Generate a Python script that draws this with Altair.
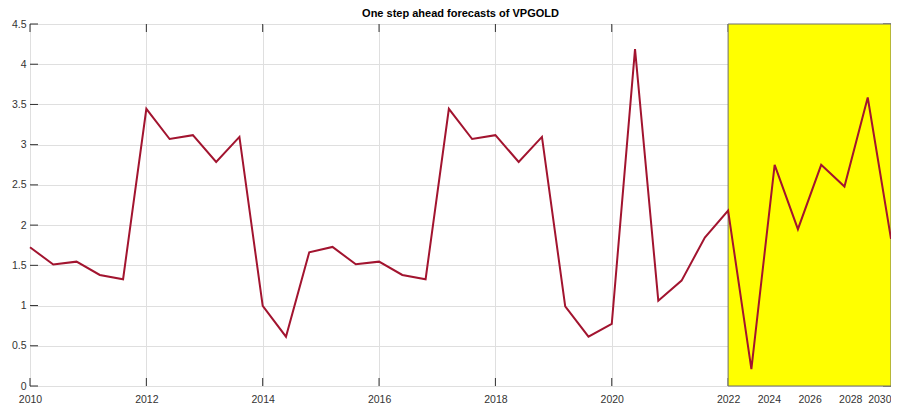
import altair as alt
import pandas as pd

# ---- data ----
values = [1.725, 1.51, 1.546, 1.38, 1.327, 3.445, 3.07, 3.118, 2.786, 3.097,
          0.995, 0.613, 1.663, 1.729, 1.513, 1.546, 1.38, 1.327, 3.445, 3.07,
          3.118, 2.786, 3.097, 0.99, 0.613, 0.771, 4.188, 1.061, 1.31, 1.845,
          2.18, 0.211, 2.749, 1.949, 2.749, 2.479, 3.586, 1.828]
obs_index = list(range(len(values)))
x_tick_pos = [0, 5, 10, 15, 20, 25, 30, 31.75, 33.5, 35.25, 37]
x_tick_labels = ["2010", "2012", "2014", "2016", "2018", "2020", "2022",
                 "2024", "2026", "2028", "2030"]
y_ticks = [0, 0.5, 1, 1.5, 2, 2.5, 3, 3.5, 4, 4.5]
forecast_start, forecast_end = 30, 37
y_min, y_max = 0, 4.5
title_text = "One step ahead forecasts of VPGOLD"

df = pd.DataFrame({"i": obs_index, "v": values})
xt = pd.DataFrame({"p": x_tick_pos})
yt = pd.DataFrame({"q": y_ticks})
span = pd.DataFrame({"x0": [forecast_start], "x1": [forecast_end],
                     "y0": [y_min], "y1": [y_max]})

W, H = 861, 362
TICK = 8
FONT = "Liberation Sans"
LABEL_COLOR = "#333333"
GRID_COLOR = "#dfdfdf"

xscale = alt.Scale(domain=[obs_index[0], forecast_end], nice=False, zero=False)
yscale = alt.Scale(domain=[y_min, y_max], nice=False, zero=False)

label_expr = ("[" + ",".join(f"'{l}'" for l in x_tick_labels) + "][indexof(["
              + ",".join(str(p) for p in x_tick_pos) + "], datum.value)]")
align_expr = f"datum.value == {x_tick_pos[-1]} ? 'right' : 'center'"

x_axis = alt.Axis(values=x_tick_pos, labelExpr=label_expr, title=None, grid=True,
                  gridColor=GRID_COLOR, ticks=False, domain=False, labelPadding=8,
                  labelOverlap=False, labelFlush=False, labelFont=FONT,
                  labelAlign={"expr": align_expr},
                  labelFontSize=10.5, labelColor=LABEL_COLOR)
y_axis = alt.Axis(values=y_ticks, format="~g", title=None, grid=True,
                  gridColor=GRID_COLOR, ticks=False, domain=False, labelPadding=4,
                  labelFont=FONT, labelFontSize=10.5, labelColor=LABEL_COLOR)


def X(field, **kw):
    return alt.X(field, scale=xscale, axis=x_axis, **kw)


def Y(field, **kw):
    return alt.Y(field, scale=yscale, axis=y_axis, **kw)


tick_color = "#303030"
bottom_ticks = alt.Chart(xt).mark_rule(color=tick_color, strokeWidth=1).encode(
    x=X("p:Q"), y=alt.value(H), y2=alt.value(H - TICK))
top_ticks = alt.Chart(xt).mark_rule(color=tick_color, strokeWidth=1).encode(
    x=X("p:Q"), y=alt.value(0), y2=alt.value(TICK))
left_ticks = alt.Chart(yt).mark_rule(color=tick_color, strokeWidth=1).encode(
    y=Y("q:Q"), x=alt.value(0), x2=alt.value(TICK))
right_ticks = alt.Chart(yt).mark_rule(color=tick_color, strokeWidth=1).encode(
    y=Y("q:Q"), x=alt.value(W - TICK), x2=alt.value(W))

rect = alt.Chart(span).mark_rect(color="#FFFF00", stroke="#6e6e6e", strokeWidth=1).encode(
    x=X("x0:Q"), x2="x1:Q", y=Y("y0:Q"), y2="y1:Q")

line = alt.Chart(df).mark_line(color="#A2142F", strokeWidth=2).encode(
    x=X("i:Q"), y=Y("v:Q"))

chart = alt.layer(bottom_ticks, top_ticks, left_ticks, right_ticks, rect, line).properties(
    width=W, height=H,
    title=alt.TitleParams(title_text, font=FONT, fontSize=11, fontWeight="bold",
                          color="#000000", anchor="middle", offset=0, frame="group"),
    autosize=alt.AutoSizeParams(type="none"),
    padding={"left": 22, "top": 16, "right": 0, "bottom": 19},
).configure_view(stroke="#505050", strokeWidth=1)

chart.save("out.html", embed_options={"renderer": "svg", "actions": False})
